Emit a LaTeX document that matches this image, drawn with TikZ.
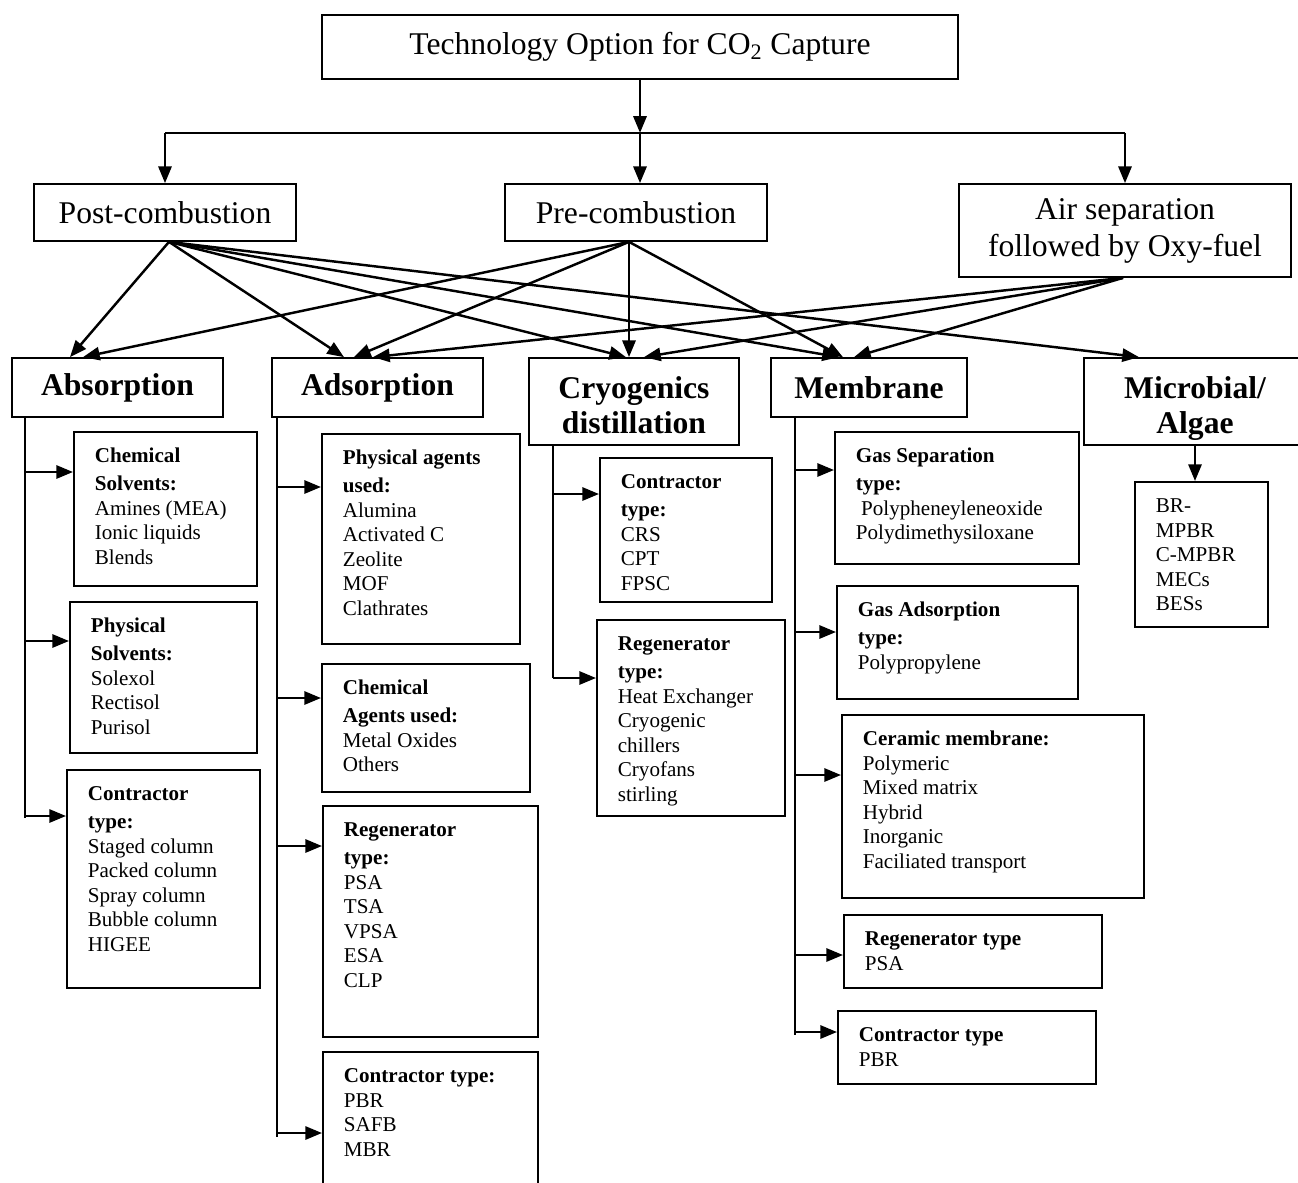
\documentclass[tikz,border=0pt]{standalone}
\usepackage{fontspec}
\setmainfont{Liberation Serif}
\usepackage{tikz}
\usetikzlibrary{arrows.meta}
\newdimen\px
\px=0.02cm
\tikzstyle{arrow} = [line width=1.4pt,-{Triangle[length=9.5pt,width=7.5pt]}]
\tikzstyle{stem} = [line width=1pt]
\tikzstyle{topbox} = [draw, line width=1pt, inner sep=0pt, align=center, font=\fontsize{18}{21}\selectfont]
\tikzstyle{catbox} = [topbox, font=\fontsize{18}{20}\selectfont\bfseries]
\tikzstyle{leaf} = [draw, line width=1pt, anchor=north west, inner xsep=21\px, inner ysep=14\px, font=\fontsize{12}{13.9}\selectfont]
\newcommand{\leafbody}[3]{\parbox[c][#2\px][t]{#1\px}{\raggedright\strut #3}}

\begin{document}
\begin{tikzpicture}[x=0.02cm, y=-0.02cm]
\useasboundingbox (0,0) rectangle (1298,1183);
\clip (0,0) rectangle (1298,1183);

% Capture routes
\node[topbox, minimum width=636\px, minimum height=64\px] (title) at (640,47) {Technology Option for CO\textsubscript{2} Capture};
\node[topbox, minimum width=262\px, minimum height=57\px] (post) at (165,212.5) {Post-combustion};
\node[topbox, minimum width=262\px, minimum height=57\px] (pre) at (636,212.5) {Pre-combustion};
\node[topbox, minimum width=332\px, minimum height=93\px] (air) at (1125,230.5) {Air separation\\followed by Oxy-fuel};

\coordinate (split) at ([yshift=-53\px]title.south);
\draw[arrow] (title.south) -- (split);
\draw[stem] (post.north |- split) -- (air.north |- split);
\draw[arrow] (post.north |- split) -- (post.north);
\draw[arrow] (split) -- (split |- pre.north);
\draw[arrow] (air.north |- split) -- (air.north);

% Separation techniques
\node[catbox, minimum width=211\px, minimum height=59\px] (abs) at (117.5,387.5) {Absorption};
\node[catbox, minimum width=211\px, minimum height=59\px] (ads) at (377.5,387.5) {Adsorption};
\node[catbox, minimum width=210\px, minimum height=87\px] (cryo) at (634,401.5) {\rule{0pt}{17pt}Cryogenics\\distillation};
\node[catbox, minimum width=196\px, minimum height=59\px] (mem) at (869,387.5) {Membrane};
\node[catbox, minimum width=222\px, minimum height=87\px] (micro) at (1195,401.5) {\rule{0pt}{20pt}Microbial/\\Algae};

\foreach \src/\sx/\dst/\dx in {post/4/abs/-47.5, post/4/ads/-33.5, post/4/cryo/-8, post/4/mem/-30, post/4/micro/-56,
    pre/-7/abs/-34.5, pre/-7/ads/-23.5, pre/-7/cryo/-5, pre/-7/mem/-26,
    air/-2/ads/-4.5, air/-2/cryo/10, air/-2/mem/-15}
  \draw[arrow] ([xshift=\sx\px]\src.south) -- ([xshift=\dx\px]\dst.north);

% Absorption
\node[leaf] (absChem) at (73,431) {\leafbody{141}{126}{\textbf{Chemical}\\[3.5\px]\textbf{Solvents:}\\Amines (MEA)\\Ionic liquids\\Blends}};
\node[leaf] (absPhys) at (69,601) {\leafbody{145}{123}{\textbf{Physical}\\[3.5\px]\textbf{Solvents:}\\Solexol\\Rectisol\\Purisol}};
\node[leaf] (absCont) at (66,769) {\leafbody{151}{190}{\textbf{Contractor}\\[3.5\px]\textbf{type:}\\Staged column\\Packed column\\Spray column\\Bubble column\\HIGEE}};

% Adsorption
\node[leaf] (adsPhys) at (321,433) {\leafbody{156}{182}{\textbf{Physical agents}\\[3.5\px]\textbf{used:}\\Alumina\\Activated C\\Zeolite\\MOF\\Clathrates}};
\node[leaf] (adsChem) at (321,663) {\leafbody{166}{100}{\textbf{Chemical}\\[3.5\px]\textbf{Agents used:}\\Metal Oxides\\Others}};
\node[leaf] (adsRegen) at (322,805) {\leafbody{173}{203}{\textbf{Regenerator}\\[3.5\px]\textbf{type:}\\PSA\\TSA\\VPSA\\ESA\\CLP}};
\node[leaf] (adsCont) at (322,1051) {\leafbody{173}{121}{\textbf{Contractor type:}\\PBR\\SAFB\\MBR}};

% Cryogenics
\node[leaf] (cryCont) at (599,457) {\leafbody{130}{116}{\textbf{Contractor}\\[3.5\px]\textbf{type:}\\CRS\\CPT\\FPSC}};
\node[leaf] (cryRegen) at (596,619) {\leafbody{146}{168}{\textbf{Regenerator}\\[3.5\px]\textbf{type:}\\Heat Exchanger\\Cryogenic\\chillers\\Cryofans\\stirling}};

% Membrane
\node[leaf] (memSep) at (834,431) {\leafbody{202}{104}{\textbf{Gas Separation}\\[3.5\px]\textbf{type:}\\\ Polypheneyleneoxide\\Polydimethysiloxane}};
\node[leaf] (memAds) at (836,585) {\leafbody{199}{85}{\textbf{Gas Adsorption}\\[3.5\px]\textbf{type:}\\Polypropylene}};
\node[leaf] (memCer) at (841,714) {\leafbody{260}{155}{\textbf{Ceramic membrane:}\\Polymeric\\Mixed matrix\\Hybrid\\Inorganic\\Faciliated transport}};
\node[leaf] (memRegen) at (843,914) {\leafbody{216}{45}{\textbf{Regenerator type}\\PSA}};
\node[leaf] (memCont) at (837,1010) {\leafbody{216}{45}{\textbf{Contractor type}\\PBR}};

% Microbial
\node[leaf] (mic) at (1134,481) {\leafbody{91}{117}{BR-\\MPBR\\C-MPBR\\MECs\\BESs}};
\draw[arrow] (micro.south) -- (micro.south |- mic.north);

% trunks and branches
\coordinate (absTop) at ([xshift=14\px]abs.south west);
\coordinate (adsTop) at ([xshift=6\px]ads.south west);
\coordinate (cryTop) at ([xshift=25\px]cryo.south west);
\coordinate (memTop) at ([xshift=25\px]mem.south west);
\foreach \trunk/\leafname/\dy in {absTop/absChem/41, absTop/absPhys/40, absTop/absCont/47,
    adsTop/adsPhys/54, adsTop/adsChem/35, adsTop/adsRegen/41, adsTop/adsCont/82,
    cryTop/cryCont/37, cryTop/cryRegen/59,
    memTop/memSep/39, memTop/memAds/47, memTop/memCer/61, memTop/memRegen/41, memTop/memCont/22}
{
  \coordinate (in-\leafname) at ([yshift=-\dy\px]\leafname.north west);
  \draw[arrow] (\trunk |- in-\leafname) -- (in-\leafname);
}
\draw[stem] (absTop) -- ([yshift=-2\px]absTop |- in-absCont);
\draw[stem] (adsTop) -- ([yshift=-4\px]adsTop |- in-adsCont);
\draw[stem] (cryTop) -- (cryTop |- in-cryRegen);
\draw[stem] (memTop) -- ([yshift=-3\px]memTop |- in-memCont);
\end{tikzpicture}
\end{document}
